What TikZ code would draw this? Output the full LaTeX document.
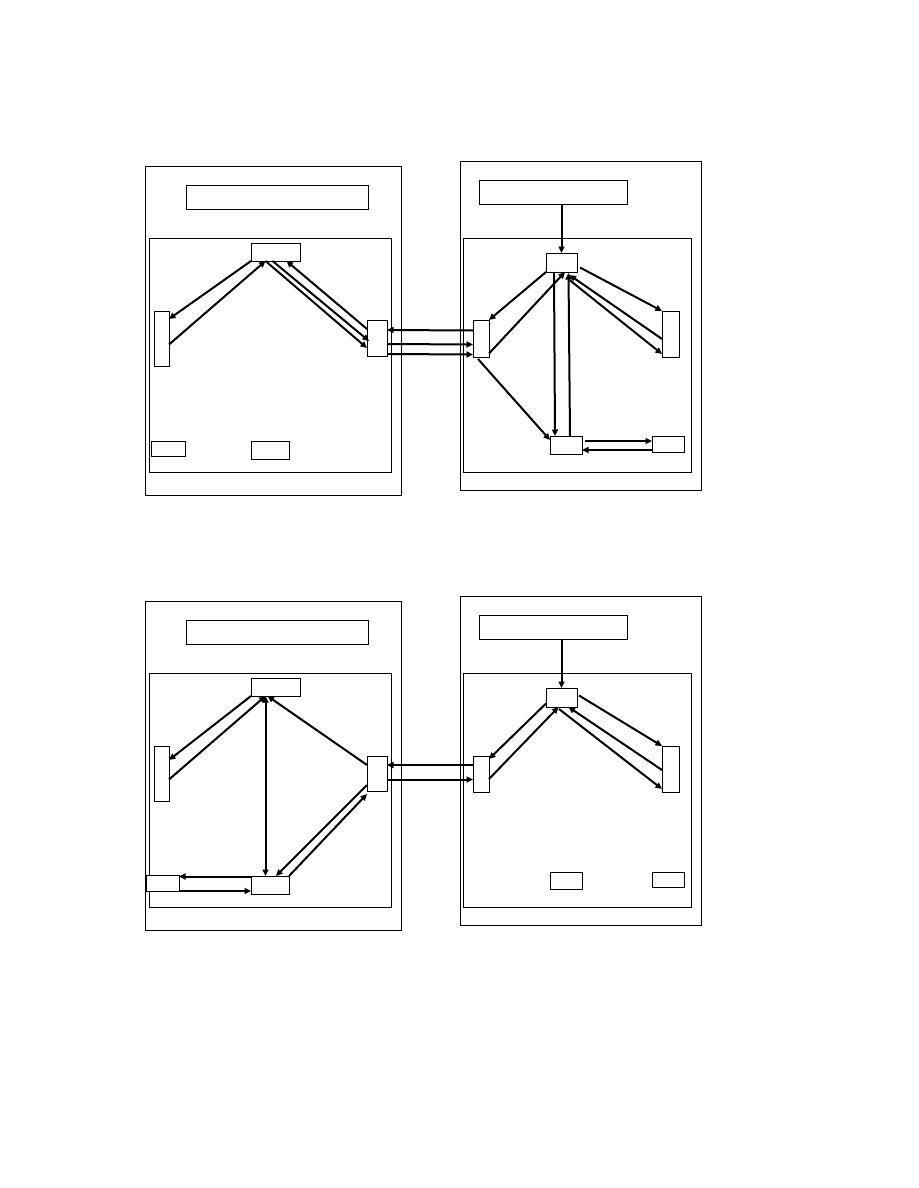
\documentclass[tikz,border=0pt]{standalone}
\usetikzlibrary{fit,arrows.meta}
\begin{document}
\begin{tikzpicture}[x=1pt,y=-1pt,
  box/.style={draw=black,line width=0.9pt,fill=white,inner sep=0pt,outer sep=0pt},
  frame/.style={draw=black,line width=0.9pt,inner sep=0pt,outer sep=0pt},
  arr/.style={line width=2pt,-{Triangle[length=6.5pt,width=6pt]}},
  darr/.style={line width=2pt,{Triangle[length=6.5pt,width=6pt]}-{Triangle[length=6.5pt,width=6pt]}}]
\useasboundingbox[fill=white] (0,0) rectangle (918,1188);

% ===== top-left =====
\node[frame,fit={(145,166) (401,495)}] (o1) {};
\node[frame,fit={(186,185) (368,209)}] (t1) {};
\node[frame,fit={(149,238) (391,472)}] (i1) {};
\node[box,fit={(251,243) (300,261)}] (A) {};
\node[box,fit={(154,311) (169,366)}] (L) {};
\node[box,fit={(367,320) (387,356)}] (R) {};
\node[box,fit={(151,441) (185,456)}] (S1) {};
\node[box,fit={(251,441) (289,459)}] (S2) {};

\draw[arr] (A.south west) -- ([yshift=-8pt]L.north east);
\draw[arr] ([yshift=-6pt]L.east) -- ([xshift=-10pt]A.south);
\draw[arr] ([xshift=-10pt]A.south) -- ([yshift=-10pt]R.west);
\draw[arr] ([xshift=-3pt]A.south) -- ([xshift=2pt,yshift=-3pt]R.west);
\draw[arr] ([yshift=9pt]R.west) -- ([xshift=11pt]A.south);

% ===== top-right =====
\node[frame,fit={(460,161) (701,490)}] (o2) {};
\node[frame,fit={(479,180) (627,204)}] (t2) {};
\node[frame,fit={(463,238) (691,472)}] (i2) {};
\node[box,fit={(546,253) (577,272)}] (T) {};
\node[box,fit={(473,320) (489,357)}] (P) {};
\node[box,fit={(662,311) (679,357)}] (Q) {};
\node[box,fit={(550,436) (582,454)}] (B) {};
\node[box,fit={(652,436) (684,452)}] (C) {};

\draw[arr] (t2.south -| T.north) -- (T.north);
\draw[arr] (T.south west) -- (P.north east);
\draw[arr] ([yshift=-15pt]P.east) -- ([xshift=3.5pt]T.south);
\draw[arr] ([xshift=3pt,yshift=-5pt]T.east) -- (Q.north west);
\draw[arr] ([yshift=-5pt]Q.west) -- ([xshift=8pt,yshift=-3pt]T.south);
\draw[arr] ([xshift=8pt,yshift=-8pt]T.south) -- ([yshift=3pt]Q.south west);
\draw[arr] ([xshift=-7.5pt]T.south) -- ([xshift=-11pt]B.north);
\draw[arr] ([xshift=4pt]B.north) -- ([xshift=7pt,yshift=-1pt]T.south);
\draw[arr] ([xshift=-3pt,yshift=-2pt]P.south) -- ([yshift=-4pt]B.north west);
\draw[arr] ([xshift=3pt,yshift=4pt]B.east) -- ([yshift=3pt]C.west);
\draw[arr] ([yshift=-6pt]C.west) -- ([yshift=-5pt]B.east);

% links top
\draw[arr] ([yshift=8pt]P.west) -- ([yshift=8pt]R.east);
\draw[arr] ([yshift=-6pt]R.east) -- ([yshift=-6pt]P.west);
\draw[arr] ([yshift=-16pt]R.east) -- ([yshift=-16pt]P.west);

% ===== bottom-left =====
\node[frame,fit={(145,601) (401,930)}] (o3) {};
\node[frame,fit={(186,620) (368,644)}] (t3) {};
\node[frame,fit={(149,673) (391,907)}] (i3) {};
\node[box,fit={(251,678) (300,696)}] (A2) {};
\node[box,fit={(154,746) (169,801)}] (L2) {};
\node[box,fit={(367,756) (387,791)}] (R2) {};
\node[box,fit={(251,876) (289,894)}] (B2) {};
\node[box,fit={(146,875) (179,891)}] (D2) {};

\coordinate (ab) at ([xshift=-10pt]A2.south);
\draw[arr] (A2.south west) -- ([yshift=-14pt]L2.north east);
\draw[arr] ([yshift=-6pt]L2.east) -- (ab);
\draw[darr] (ab) -- (ab |- B2.north);
\draw[arr] ([yshift=8.5pt]R2.west) -- ([xshift=-8pt]A2.south);
\draw[arr] ([yshift=-11.5pt]R2.west) -- ([xshift=6pt]B2.north);
\draw[arr] (B2.north east) -- ([yshift=-3pt]R2.south west);
\draw[arr] ([yshift=8.5pt]B2.west) -- ([yshift=6.5pt]D2.east);
\draw[arr] ([yshift=-8pt]D2.east) -- ([yshift=-6pt]B2.west);

% ===== bottom-right =====
\node[frame,fit={(460,596) (701,925)}] (o4) {};
\node[frame,fit={(479,615) (627,639)}] (t4) {};
\node[frame,fit={(463,673) (691,907)}] (i4) {};
\node[box,fit={(546,688) (577,707)}] (T2) {};
\node[box,fit={(473,756) (489,792)}] (P2) {};
\node[box,fit={(662,746) (679,792)}] (Q2) {};
\node[box,fit={(550,872) (582,889)}] (E1) {};
\node[box,fit={(652,872) (684,887)}] (E2) {};

\draw[arr] (t4.south -| T2.north) -- (T2.north);
\draw[arr] ([yshift=-6pt]T2.west) -- ([yshift=-3pt]P2.north east);
\draw[arr] ([yshift=-5pt]P2.east) -- ([xshift=-3pt]T2.south);
\draw[arr] ([xshift=2pt,yshift=2pt]T2.east) -- (Q2.north west);
\draw[arr] ([yshift=-1pt]Q2.west) -- ([xshift=7pt]T2.south);
\draw[arr] ([xshift=-2.5pt,yshift=-2pt]T2.south) -- ([yshift=3pt]Q2.south west);

% links bottom
\draw[arr] ([yshift=9pt]P2.west) -- ([yshift=8.5pt]R2.east);
\draw[arr] ([yshift=-6pt]R2.east) -- ([yshift=-5.5pt]P2.west);
\end{tikzpicture}
\end{document}
